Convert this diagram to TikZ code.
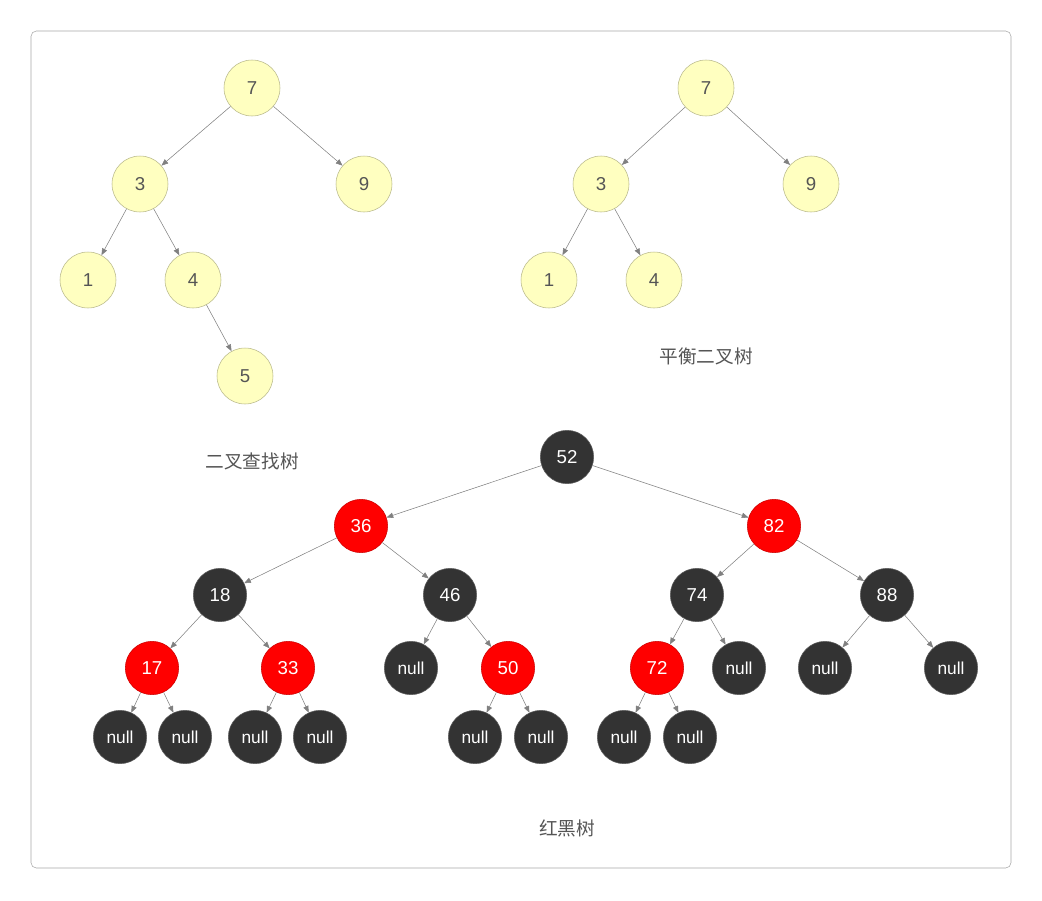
\documentclass[tikz,border=0pt]{standalone}
\usepackage{fontspec}
\setmainfont{Liberation Sans}
\newfontfamily\cjk{Noto Sans CJK SC}
\usetikzlibrary{arrows.meta}
\definecolor{yfill}{HTML}{FFFFC0}
\definecolor{ydraw}{HTML}{B8B88A}
\definecolor{dk}{HTML}{333333}
\definecolor{tx}{HTML}{555555}
\begin{document}
\begin{tikzpicture}[x=0.75pt,y=-0.75pt,
 yn/.style={circle,fill=yfill,draw=ydraw,minimum size=42pt,inner sep=0pt,text=tx,font=\fontsize{14}{16}\selectfont},
 bn/.style={circle,fill=dk,draw=dk!80,minimum size=40pt,inner sep=0pt,text=white,font=\fontsize{14}{16}\selectfont},
 rn/.style={bn,fill=red,draw=red!80!black},
 nn/.style={bn,font=\fontsize{13}{15}\selectfont},
 lab/.style={text=tx,font=\cjk\fontsize{14}{16}\selectfont},
 ar/.style={draw=gray,-{Triangle[length=5pt,width=4pt]}}]
\useasboundingbox (0,0) rectangle (1042,900);
\draw[draw=gray!70,rounded corners=4pt] (31,31) rectangle (1011,868);
% tree 1
\node[yn] (a7) at (252,88) {7};
\node[yn] (a3) at (140,184) {3};
\node[yn] (a9) at (364,184) {9};
\node[yn] (a1) at (88,280) {1};
\node[yn] (a4) at (193,280) {4};
\node[yn] (a5) at (245,376) {5};
\node[lab] (l1) at (252,461) {二叉查找树};
\foreach \p/\c in {a7/a3,a7/a9,a3/a1,a3/a4,a4/a5} \draw[ar] (\p) -- (\c);
% tree 2
\node[yn] (b7) at (706,88) {7};
\node[yn] (b3) at (601,184) {3};
\node[yn] (b9) at (811,184) {9};
\node[yn] (b1) at (549,280) {1};
\node[yn] (b4) at (654,280) {4};
\node[lab] (l2) at (706,356) {平衡二叉树};
\foreach \p/\c in {b7/b3,b7/b9,b3/b1,b3/b4} \draw[ar] (\p) -- (\c);
% RB tree
\node[bn] (r52) at (567,457) {52};
\node[rn] (r36) at (361,526) {36};
\node[rn] (r82) at (774,526) {82};
\node[bn] (r18) at (220,595) {18};
\node[bn] (r46) at (450,595) {46};
\node[bn] (r74) at (697,595) {74};
\node[bn] (r88) at (887,595) {88};
\node[rn] (r17) at (152,668) {17};
\node[rn] (r33) at (288,668) {33};
\node[nn] (n46) at (411,668) {null};
\node[rn] (r50) at (508,668) {50};
\node[rn] (r72) at (657,668) {72};
\node[nn] (n74) at (739,668) {null};
\node[nn] (n88a) at (825,668) {null};
\node[nn] (n88b) at (951,668) {null};
\node[nn] (n17a) at (120,737) {null};
\node[nn] (n17b) at (185,737) {null};
\node[nn] (n33a) at (255,737) {null};
\node[nn] (n33b) at (320,737) {null};
\node[nn] (n50a) at (475,737) {null};
\node[nn] (n50b) at (541,737) {null};
\node[nn] (n72a) at (624,737) {null};
\node[nn] (n72b) at (690,737) {null};
\node[lab] (l3) at (567,828) {红黑树};
\foreach \p/\c in {r52/r36,r52/r82,r36/r18,r36/r46,r82/r74,r82/r88,r18/r17,r18/r33,r46/n46,r46/r50,r74/r72,r74/n74,r88/n88a,r88/n88b,r17/n17a,r17/n17b,r33/n33a,r33/n33b,r50/n50a,r50/n50b,r72/n72a,r72/n72b}
 \draw[ar] (\p) -- (\c);
\end{tikzpicture}
\end{document}
